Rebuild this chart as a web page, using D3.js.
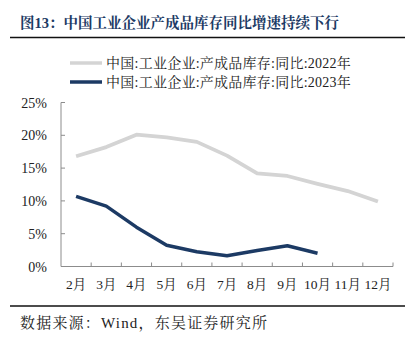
<!DOCTYPE html>
<html><head><meta charset="utf-8">
<script src="https://cdn.jsdelivr.net/npm/d3@7"></script>
<style>
html,body{margin:0;padding:0;background:#fff;}
svg{display:block;}
</style></head>
<body>
<svg id="c" width="415" height="345"></svg>
<script>
const months = ["2月","3月","4月","5月","6月","7月","8月","9月","10月","11月","12月"];
const series2022 = [16.8, 18.2, 20.1, 19.7, 19.0, 16.9, 14.2, 13.8, 12.6, 11.5, 9.9];
const series2023 = [10.7, 9.2, 6.0, 3.25, 2.24, 1.63, 2.44, 3.16, 2.03];
const yTicks = [0, 5, 10, 15, 20, 25];
const legendNames = ["中国:工业企业:产成品库存:同比:2022年", "中国:工业企业:产成品库存:同比:2023年"];
const titleText = "图13：中国工业企业产成品库存同比增速持续下行";
const sourceText = "数据来源：Wind，东吴证券研究所";

const svg = d3.select("#c");
const serif = "'Liberation Serif','Times New Roman','Noto Serif CJK SC','Noto Sans CJK SC',serif";
const navy = "#1c3a64", gray = "#d4d4d4", axisC = "#8c8c8c";

// Title
svg.append("text").attr("x", 20).attr("y", 28)
  .attr("font-family", serif).attr("font-size", 14.5).attr("font-weight", "bold")
  .attr("fill", navy).text(titleText);
svg.append("line").attr("x1", 10).attr("x2", 405).attr("y1", 37.5).attr("y2", 37.5)
  .attr("stroke", "#111").attr("stroke-width", 1.6);

// Legend
const legColors = [gray, navy];
legendNames.forEach((n, i) => {
  const y = 63 + i * 19;
  svg.append("line").attr("x1", 70).attr("x2", 102).attr("y1", y).attr("y2", y)
    .attr("stroke", legColors[i]).attr("stroke-width", 3.5);
  svg.append("text").attr("x", 106).attr("y", y + 5)
    .attr("font-family", serif).attr("font-size", 14).attr("letter-spacing", 0.25)
    .attr("fill", "#222").text(n);
});

// Scales
const x = d3.scaleBand().domain(months).range([61, 393]);
const y = d3.scaleLinear().domain([0, 25]).range([266.5, 102.5]);

// Axes
const gx = svg.append("g").attr("transform", "translate(0,266.5)");
gx.append("line").attr("x1", 61).attr("x2", 393).attr("stroke", axisC).attr("stroke-width", 1);
const bounds = months.map(m => x(m) + x.bandwidth());
gx.selectAll("line.t").data(bounds).enter().append("line").attr("class","t")
  .attr("x1", d => d).attr("x2", d => d).attr("y1", 0).attr("y2", -4)
  .attr("stroke", axisC);
gx.selectAll("text").data(months).enter().append("text")
  .attr("x", m => x(m) + x.bandwidth() / 2).attr("y", 22)
  .attr("text-anchor", "middle").attr("font-family", serif).attr("font-size", 13.5)
  .attr("fill", "#222").text(d => d);

const gy = svg.append("g").attr("transform", "translate(61,0)");
gy.append("line").attr("y1", y(0)).attr("y2", y(25)).attr("stroke", axisC);
gy.selectAll("line.t").data(yTicks).enter().append("line").attr("class","t")
  .attr("x1", 0).attr("x2", 4).attr("y1", d => y(d)).attr("y2", d => y(d)).attr("stroke", axisC);
gy.selectAll("text").data(yTicks).enter().append("text")
  .attr("x", -14).attr("y", d => y(d) + 5).attr("text-anchor", "end")
  .attr("font-family", serif).attr("font-size", 14).attr("fill", "#222")
  .text(d => d + "%");

// Lines
const line = d3.line().x((d, i) => x(months[i]) + x.bandwidth() / 2).y(d => y(d));
svg.append("path").datum(series2022).attr("d", line).attr("fill", "none")
  .attr("stroke", gray).attr("stroke-width", 3.8).attr("stroke-linejoin", "round");
svg.append("path").datum(series2023).attr("d", line).attr("fill", "none")
  .attr("stroke", navy).attr("stroke-width", 3.5).attr("stroke-linejoin", "round");

// Footer
svg.append("line").attr("x1", 10).attr("x2", 405).attr("y1", 306).attr("y2", 306)
  .attr("stroke", "#111").attr("stroke-width", 1.6);
svg.append("text").attr("x", 20).attr("y", 328)
  .attr("font-family", serif).attr("font-size", 15).attr("letter-spacing", 1.2)
  .attr("fill", "#222").text(sourceText);
</script>
</body></html>
